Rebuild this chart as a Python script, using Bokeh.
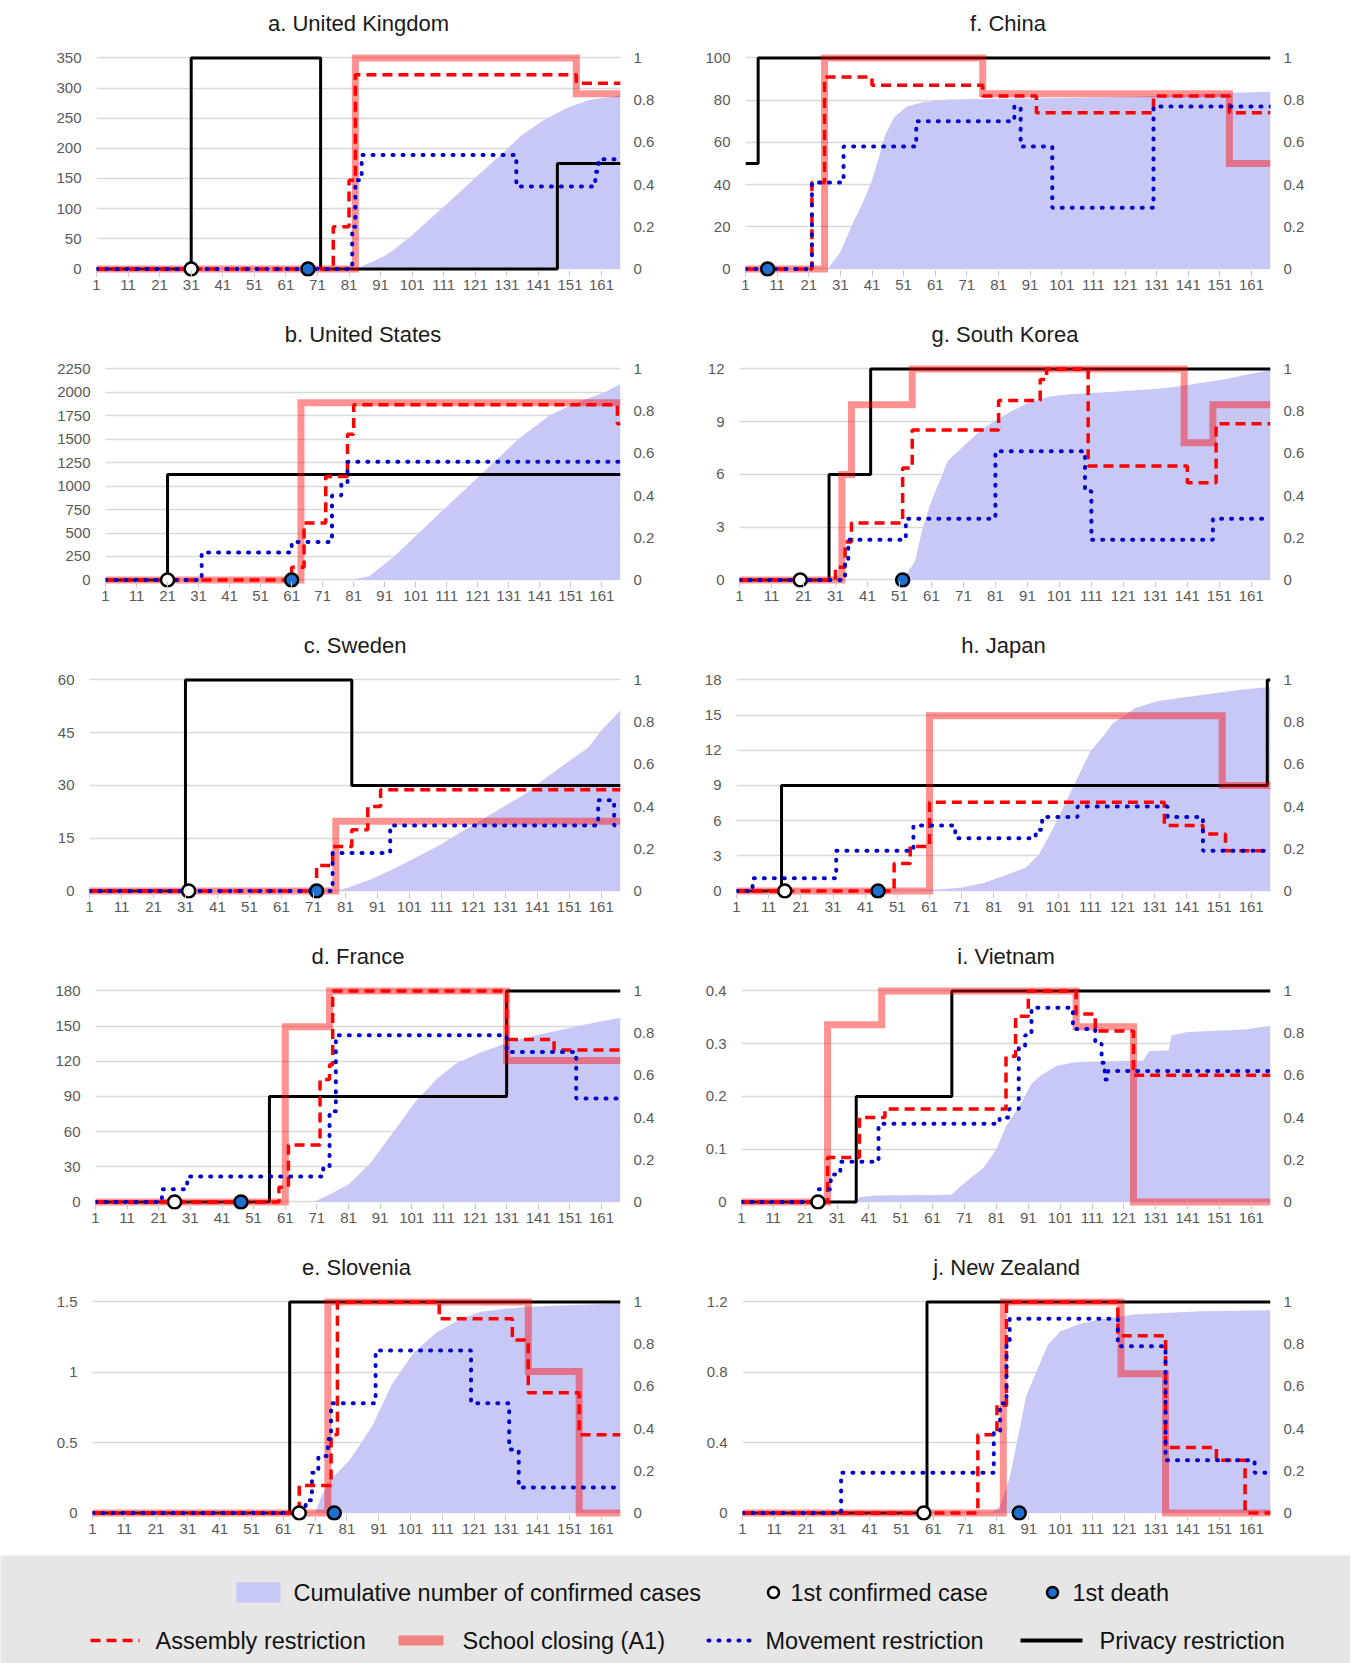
from bokeh.plotting import figure
from bokeh.models import Range1d, LinearAxis, FixedTicker, CustomJSTickFormatter
from bokeh.layouts import column, row
from bokeh.embed import file_html
from bokeh.resources import INLINE
from bokeh.core.properties import value

# ---------------- data ----------------
DAY_TICKS = [1, 11, 21, 31, 41, 51, 61, 71, 81, 91, 101, 111, 121, 131, 141, 151, 161]
FIRST_DAY = 1
LAST_DAY = 167
INDEX_TICKS = [0, 0.2, 0.4, 0.6, 0.8, 1]

# a. United Kingdom
UK_LEFT_TICKS = [0, 50, 100, 150, 200, 250, 300, 350]
UK_CASE_DAY = [1, 83, 88, 92, 95, 101, 108, 115, 122, 129, 136, 143, 150, 157, 164, 167]
UK_CASES = [0, 0, 11, 21, 31, 56, 89, 122, 156, 189, 223, 248, 267, 280, 285, 288]
UK_ASSEMBLY = [(1, 0), (76, 0.2), (81, 0.42), (83, 0.92), (153, 0.88)]
UK_SCHOOL = [(1, 0), (83, 1), (153, 0.83)]
UK_MOVEMENT = [(1, 0), (82, 0.2), (83, 0.42), (85, 0.54), (134, 0.39), (159, 0.46), (160, 0.52)]
UK_PRIVACY = [(1, 0), (31, 1), (72, 0), (147, 0.5)]
UK_FIRST_CASE = [31]
UK_FIRST_DEATH = [68]

# f. China
CN_LEFT_TICKS = [0, 20, 40, 60, 80, 100]
CN_CASE_DAY = [1, 27, 31, 35, 38, 41, 43, 45, 48, 52, 57, 65, 90, 117, 131, 145, 167]
CN_CASES = [0, 0, 8, 22, 31, 42, 52, 63, 72, 77, 79, 80.3, 80.8, 81.3, 82, 83, 84]
CN_ASSEMBLY = [(1, 0), (22, 0.41), (26, 0.91), (41, 0.87), (76, 0.82), (93, 0.74), (130, 0.82), (154, 0.74)]
CN_SCHOOL = [(1, 0), (26, 1), (76, 0.83), (154, 0.5)]
CN_MOVEMENT = [(1, 0), (22, 0.41), (32, 0.58), (55, 0.7), (86, 0.77), (88, 0.58), (98, 0.29), (130, 0.77)]
CN_PRIVACY = [(1, 0.5), (5, 1)]
CN_FIRST_CASE = []
CN_FIRST_DEATH = [8]

# b. United States
US_LEFT_TICKS = [0, 250, 500, 750, 1000, 1250, 1500, 1750, 2000, 2250]
US_CASE_DAY = [1, 80, 86, 94, 102, 110, 118, 126, 134, 144, 152, 162, 167]
US_CASES = [0, 0, 40, 250, 500, 750, 1000, 1250, 1500, 1750, 1880, 2000, 2090]
US_ASSEMBLY = [(1, 0), (61, 0.06), (65, 0.27), (72, 0.49), (79, 0.69), (81, 0.83), (166, 0.74)]
US_SCHOOL = [(1, 0), (64, 0.84)]
US_MOVEMENT = [(1, 0), (32, 0.13), (61, 0.18), (74, 0.4), (77, 0.46), (79, 0.56)]
US_PRIVACY = [(1, 0), (21, 0.5)]
US_FIRST_CASE = [21]
US_FIRST_DEATH = [61]

# g. South Korea
KR_LEFT_TICKS = [0, 3, 6, 9, 12]
KR_CASE_DAY = [1, 52, 56, 58, 61, 64, 66, 71, 77, 84, 91, 98, 104, 118, 132, 138, 145, 152, 159, 167]
KR_CASES = [0, 0, 1.1, 2.8, 4.5, 5.8, 6.75, 7.6, 8.6, 9.4, 10.05, 10.43, 10.56, 10.7, 10.87, 11, 11.2, 11.38, 11.66, 11.94]
KR_ASSEMBLY = [(1, 0), (31, 0.06), (34, 0.18), (36, 0.27), (52, 0.53), (55, 0.71), (82, 0.85), (95, 0.95),
               (97, 1), (110, 0.54), (141, 0.46), (150, 0.74)]
KR_SCHOOL = [(1, 0), (33, 0.5), (36, 0.83), (55, 1), (140, 0.65), (149, 0.83)]
KR_MOVEMENT = [(1, 0), (34, 0.1), (35, 0.19), (53, 0.29), (81, 0.61), (109, 0.42), (111, 0.19), (149, 0.29)]
KR_PRIVACY = [(1, 0), (29, 0.5), (42, 1)]
KR_FIRST_CASE = [20]
KR_FIRST_DEATH = [52]

# c. Sweden
SE_LEFT_TICKS = [0, 15, 30, 45, 60]
SE_CASE_DAY = [1, 78, 82, 89, 96, 103, 110, 116, 123, 130, 137, 144, 151, 157, 161, 167]
SE_CASES = [0, 0, 0.95, 3.3, 6.2, 9.5, 12.8, 16.1, 19.9, 23.7, 27.5, 32.3, 37, 40.8, 45.6, 51.4]
SE_ASSEMBLY = [(1, 0), (72, 0.12), (77, 0.21), (83, 0.29), (88, 0.4), (92, 0.48)]
SE_SCHOOL = [(1, 0), (78, 0.33)]
SE_MOVEMENT = [(1, 0), (77, 0.18), (95, 0.31), (160, 0.43), (165, 0.31)]
SE_PRIVACY = [(1, 0), (31, 1), (83, 0.5)]
SE_FIRST_CASE = [32]
SE_FIRST_DEATH = [72]

# h. Japan
JP_LEFT_TICKS = [0, 3, 6, 9, 12, 15, 18]
JP_CASE_DAY = [1, 40, 63, 71, 78, 84, 91, 95, 99, 102, 105, 108, 111, 115, 118, 125, 132, 145, 159, 167]
JP_CASES = [0, 0, 0.1, 0.28, 0.7, 1.28, 2, 3.1, 5.1, 6.8, 8.5, 10.2, 11.9, 13.2, 14.3, 15.6, 16.2, 16.7, 17.2, 17.4]
JP_ASSEMBLY = [(1, 0), (50, 0.13), (55, 0.21), (61, 0.42), (134, 0.31), (146, 0.27), (153, 0.19)]
JP_SCHOOL = [(1, 0), (61, 0.83), (152, 0.5)]
JP_MOVEMENT = [(1, 0), (6, 0.06), (32, 0.19), (56, 0.31), (69, 0.25), (94, 0.29), (96, 0.35), (107, 0.4),
               (135, 0.35), (146, 0.19)]
JP_PRIVACY = [(1, 0), (15, 0.5), (166, 1)]
JP_FIRST_CASE = [16]
JP_FIRST_DEATH = [45]

# d. France
FR_LEFT_TICKS = [0, 30, 60, 90, 120, 150, 180]
FR_CASE_DAY = [1, 70, 75, 81, 88, 95, 102, 109, 115, 122, 129, 136, 143, 150, 157, 167]
FR_CASES = [0, 0, 6.3, 14.9, 33.5, 59, 85, 105, 118, 126.5, 133.7, 139.4, 143.7, 148, 152, 157]
FR_ASSEMBLY = [(1, 0), (59, 0.07), (62, 0.27), (72, 0.58), (75, 0.65), (76, 1), (131, 0.77), (146, 0.72)]
FR_SCHOOL = [(1, 0), (61, 0.83), (75, 1), (131, 0.67)]
FR_MOVEMENT = [(1, 0), (22, 0.06), (30, 0.12), (73, 0.17), (75, 0.43), (77, 0.79), (131, 0.71), (153, 0.49)]
FR_PRIVACY = [(1, 0), (56, 0.5), (131, 1)]
FR_FIRST_CASE = [26]
FR_FIRST_DEATH = [47]

# i. Vietnam
VN_LEFT_TICKS = [0, 0.1, 0.2, 0.3, 0.4]
VN_CASE_DAY = [1, 37, 38, 43, 63, 67, 70, 77, 81, 84, 88, 92, 95, 100, 106, 127, 129, 135, 136, 141, 159, 167]
VN_CASES = [0, 0, 0.009, 0.012, 0.013, 0.014, 0.031, 0.065, 0.1, 0.144, 0.179, 0.224, 0.24, 0.258, 0.265,
            0.268, 0.286, 0.287, 0.316, 0.322, 0.327, 0.334]
VN_ASSEMBLY = [(1, 0), (28, 0.21), (38, 0.4), (46, 0.44), (84, 0.69), (87, 0.88), (91, 1), (106, 0.89),
               (112, 0.81), (124, 0.6)]
VN_SCHOOL = [(1, 0), (28, 0.84), (45, 1), (106, 0.83), (124, 0)]
VN_MOVEMENT = [(1, 0), (25, 0.06), (29, 0.13), (32, 0.19), (44, 0.37), (82, 0.4), (85, 0.44), (88, 0.74),
               (90, 0.79), (92, 0.92), (105, 0.82), (112, 0.75), (114, 0.66), (115, 0.58), (116, 0.62)]
VN_PRIVACY = [(1, 0), (37, 0.5), (67, 1)]
VN_FIRST_CASE = [25]
VN_FIRST_DEATH = []

# e. Slovenia
SI_LEFT_TICKS = [0, 0.5, 1, 1.5]
SI_CASE_DAY = [1, 71, 73, 76, 82, 89, 95, 102, 109, 116, 123, 130, 137, 150, 167]
SI_CASES = [0, 0, 0.12, 0.24, 0.38, 0.62, 0.91, 1.14, 1.28, 1.37, 1.43, 1.45, 1.464, 1.476, 1.488]
SI_ASSEMBLY = [(1, 0), (66, 0.13), (76, 0.37), (78, 1), (110, 0.92), (133, 0.82), (138, 0.57), (154, 0.37)]
SI_SCHOOL = [(1, 0), (75, 1), (138, 0.67), (154, 0)]
SI_MOVEMENT = [(1, 0), (68, 0.06), (70, 0.19), (72, 0.27), (75, 0.35), (76, 0.52), (90, 0.77), (120, 0.52),
               (132, 0.3), (135, 0.12)]
SI_PRIVACY = [(1, 0), (63, 1)]
SI_FIRST_CASE = [66]
SI_FIRST_DEATH = [77]

# j. New Zealand
NZ_LEFT_TICKS = [0, 0.4, 0.8, 1.2]
NZ_CASE_DAY = [1, 79, 82, 85, 88, 90, 93, 97, 101, 107, 113, 124, 145, 167]
NZ_CASES = [0, 0, 0.038, 0.2, 0.465, 0.654, 0.787, 0.957, 1.033, 1.075, 1.1, 1.128, 1.147, 1.153]
NZ_ASSEMBLY = [(1, 0), (75, 0.37), (81, 0.51), (84, 1), (119, 0.84), (134, 0.31), (150, 0.25), (159, 0)]
NZ_SCHOOL = [(1, 0), (83, 1), (120, 0.66), (134, 0)]
NZ_MOVEMENT = [(1, 0), (32, 0.19), (80, 0.39), (82, 0.52), (84, 0.8), (85, 0.92), (119, 0.79), (134, 0.25),
               (162, 0.19)]
NZ_PRIVACY = [(1, 0), (59, 1)]
NZ_FIRST_CASE = [58]
NZ_FIRST_DEATH = [88]

PANELS = [
    ("a. United Kingdom", UK_LEFT_TICKS, UK_CASE_DAY, UK_CASES, UK_ASSEMBLY, UK_SCHOOL, UK_MOVEMENT, UK_PRIVACY, UK_FIRST_CASE, UK_FIRST_DEATH),
    ("f. China", CN_LEFT_TICKS, CN_CASE_DAY, CN_CASES, CN_ASSEMBLY, CN_SCHOOL, CN_MOVEMENT, CN_PRIVACY, CN_FIRST_CASE, CN_FIRST_DEATH),
    ("b. United States", US_LEFT_TICKS, US_CASE_DAY, US_CASES, US_ASSEMBLY, US_SCHOOL, US_MOVEMENT, US_PRIVACY, US_FIRST_CASE, US_FIRST_DEATH),
    ("g. South Korea", KR_LEFT_TICKS, KR_CASE_DAY, KR_CASES, KR_ASSEMBLY, KR_SCHOOL, KR_MOVEMENT, KR_PRIVACY, KR_FIRST_CASE, KR_FIRST_DEATH),
    ("c. Sweden", SE_LEFT_TICKS, SE_CASE_DAY, SE_CASES, SE_ASSEMBLY, SE_SCHOOL, SE_MOVEMENT, SE_PRIVACY, SE_FIRST_CASE, SE_FIRST_DEATH),
    ("h. Japan", JP_LEFT_TICKS, JP_CASE_DAY, JP_CASES, JP_ASSEMBLY, JP_SCHOOL, JP_MOVEMENT, JP_PRIVACY, JP_FIRST_CASE, JP_FIRST_DEATH),
    ("d. France", FR_LEFT_TICKS, FR_CASE_DAY, FR_CASES, FR_ASSEMBLY, FR_SCHOOL, FR_MOVEMENT, FR_PRIVACY, FR_FIRST_CASE, FR_FIRST_DEATH),
    ("i. Vietnam", VN_LEFT_TICKS, VN_CASE_DAY, VN_CASES, VN_ASSEMBLY, VN_SCHOOL, VN_MOVEMENT, VN_PRIVACY, VN_FIRST_CASE, VN_FIRST_DEATH),
    ("e. Slovenia", SI_LEFT_TICKS, SI_CASE_DAY, SI_CASES, SI_ASSEMBLY, SI_SCHOOL, SI_MOVEMENT, SI_PRIVACY, SI_FIRST_CASE, SI_FIRST_DEATH),
    ("j. New Zealand", NZ_LEFT_TICKS, NZ_CASE_DAY, NZ_CASES, NZ_ASSEMBLY, NZ_SCHOOL, NZ_MOVEMENT, NZ_PRIVACY, NZ_FIRST_CASE, NZ_FIRST_DEATH),
]

LEGEND_LABELS = ["Cumulative number of confirmed cases", "1st confirmed case", "1st death",
                 "Assembly restriction", "School closing (A1)", "Movement restriction", "Privacy restriction"]

# ---------------- styles ----------------
FONT = "Liberation Sans"
AREA_COLOR = "#c8c8f6"
SCHOOL_COLOR = "#ff0000"
SCHOOL_ALPHA = 0.43
ASSEMBLY_COLOR = "#ff0000"
MOVE_COLOR = "#0000cc"
PRIV_COLOR = "#000000"
DEATH_COLOR = "#1f6fd1"
GRID_COLOR = "#d9d9d9"
TICK_TEXT = "#595959"
LEFT_W, RIGHT_W, PANEL_H = 678, 670, 311
LEFT_BORDERS = [96, 67, 105, 61, 89, 58, 95, 63, 92, 64]
PAD_LO = 0.036
PAD_HI = 0.092
MOVE_DASH = "1 9"


def step_xy(changes):
    xs = [c[0] for c in changes] + [LAST_DAY]
    ys = [c[1] for c in changes] + [changes[-1][1]]
    return xs, ys


def tick_fmt():
    return CustomJSTickFormatter(code="return String(Math.round(tick*1000)/1000);")


def make_panel(i, spec):
    title, lticks, cday, cases, assembly, school, movement, privacy, fcase, fdeath = spec
    top = lticks[-1]
    right_col = (i % 2 == 1)
    p = figure(width=RIGHT_W if right_col else LEFT_W, height=PANEL_H, output_backend="svg",
               toolbar_location=None,
               x_range=Range1d(FIRST_DAY, LAST_DAY),
               y_range=Range1d(-PAD_LO * top, top * (1 + PAD_HI)),
               min_border_left=LEFT_BORDERS[i], min_border_right=78 if right_col else 58,
               min_border_top=38, min_border_bottom=35, title=title)
    p.extra_y_ranges = {"idx": Range1d(-PAD_LO, 1 + PAD_HI)}
    p.outline_line_color = None
    p.background_fill_color = "white"

    p.title.text_font = FONT
    p.title.text_font_size = "22px"
    p.title.text_font_style = "normal"
    p.title.text_color = "#1a1a1a"
    p.title.align = "center"
    p.title.standoff = 6

    p.xgrid.visible = False
    p.ygrid.grid_line_color = GRID_COLOR
    p.ygrid.grid_line_width = 1.5

    xa = p.xaxis[0]
    xa.ticker = FixedTicker(ticks=DAY_TICKS)
    xa.axis_line_color = None
    xa.major_tick_in = 6
    xa.major_tick_out = 0
    xa.major_tick_line_color = "#c8c8c8"
    xa.minor_tick_line_color = None
    xa.major_label_standoff = 3

    ya = p.yaxis[0]
    ya.ticker = FixedTicker(ticks=lticks)
    ya.formatter = tick_fmt()
    ya.axis_line_color = None
    ya.major_tick_line_color = None
    ya.minor_tick_line_color = None
    ya.major_label_standoff = 9

    ra = LinearAxis(y_range_name="idx", ticker=FixedTicker(ticks=INDEX_TICKS), formatter=tick_fmt())
    ra.axis_line_color = None
    ra.major_tick_line_color = None
    ra.minor_tick_line_color = None
    ra.major_label_standoff = 7
    p.add_layout(ra, "right")

    for ax in (xa, ya, ra):
        ax.major_label_text_font = FONT
        ax.major_label_text_font_size = "15px"
        ax.major_label_text_color = TICK_TEXT

    p.varea(x=cday, y1=[0] * len(cday), y2=cases, fill_color=AREA_COLOR, fill_alpha=1.0)

    x, y = step_xy(privacy)
    p.step(x, y, mode="after", y_range_name="idx", line_color=PRIV_COLOR, line_width=3)
    x, y = step_xy(school)
    p.step(x, y, mode="after", y_range_name="idx", line_color=SCHOOL_COLOR, line_alpha=SCHOOL_ALPHA,
           line_width=7, line_join="miter")
    x, y = step_xy(assembly)
    p.step(x, y, mode="after", y_range_name="idx", line_color=ASSEMBLY_COLOR, line_width=3.5,
           line_dash="10 6")
    x, y = step_xy(movement)
    p.step(x, y, mode="after", y_range_name="idx", line_color=MOVE_COLOR, line_width=4,
           line_dash=MOVE_DASH, line_cap="round")

    if fcase:
        p.scatter(fcase, [0] * len(fcase), size=13, fill_color="white", line_color="black", line_width=2.5)
    if fdeath:
        p.scatter(fdeath, [0] * len(fdeath), size=13, fill_color=DEATH_COLOR, line_color="black", line_width=2.5)
    return p


panels = [make_panel(i, s) for i, s in enumerate(PANELS)]
rows = [row(panels[k], panels[k + 1], spacing=0) for k in range(0, 10, 2)]

# ---------------- legend ----------------
LW, LH = 1350, 108
lg = figure(width=LW, height=LH, output_backend="svg", toolbar_location=None,
            x_range=Range1d(0, LW), y_range=Range1d(0, LH), min_border=0,
            x_axis_location=None, y_axis_location=None,
            background_fill_color="#e6e6e6", border_fill_color="#e6e6e6", outline_line_color=None)
lg.grid.visible = False
r1, r2 = 71, 23
lg.quad(left=[236], right=[280], bottom=[r1 - 10], top=[r1 + 10], fill_color=AREA_COLOR, line_color=None)
lg.scatter([773], [r1], size=11, fill_color="white", line_color="black", line_width=2.5)
lg.scatter([1052], [r1], size=11, fill_color=DEATH_COLOR, line_color="black", line_width=2.5)
lg.line([90, 139], [r2, r2], line_color=ASSEMBLY_COLOR, line_width=3.5, line_dash="10 6")
lg.line([398, 443], [r2, r2], line_color=SCHOOL_COLOR, line_alpha=SCHOOL_ALPHA, line_width=10)
lg.line([708, 750], [r2, r2], line_color=MOVE_COLOR, line_width=4, line_dash=MOVE_DASH, line_cap="round")
lg.line([1020, 1082], [r2, r2], line_color=PRIV_COLOR, line_width=4)
lg.text(x=[293, 790, 1072, 155, 462, 765, 1099], y=[r1, r1, r1, r2, r2, r2, r2], text=LEGEND_LABELS,
        text_font=value(FONT), text_font_size="23.5px", text_baseline="middle", text_align="left",
        text_color="#111111")

layout = column(*rows, lg, spacing=0)
open("out.html", "w").write(file_html(layout, INLINE))
